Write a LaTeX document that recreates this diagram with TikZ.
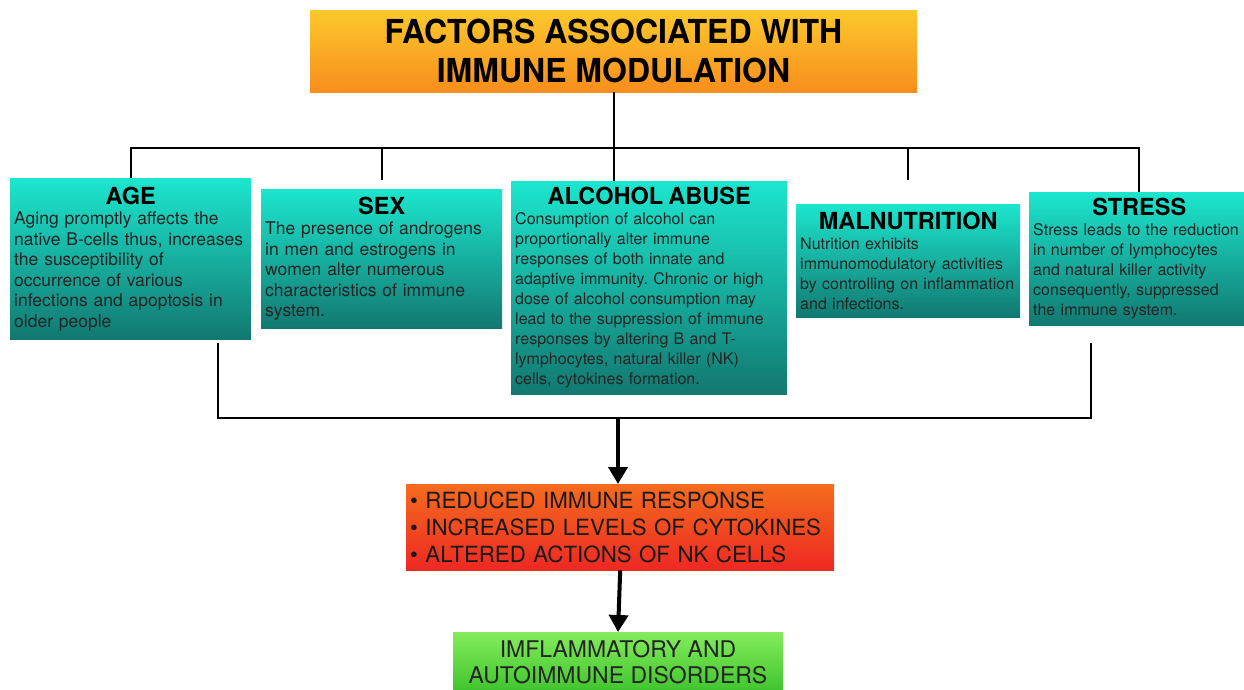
\documentclass[tikz,border=0pt]{standalone}
\usepackage{fontspec}
\setmainfont{TeX Gyre Heros}
\newfontfamily\titlefont[FakeStretch=0.97]{TeX Gyre Heros}
\usetikzlibrary{arrows.meta, positioning}
\definecolor{titletop}{RGB}{252,200,44}
\definecolor{titlebot}{RGB}{248,142,28}
\definecolor{tealtop}{RGB}{28,230,206}
\definecolor{tealbot}{RGB}{18,120,112}
\definecolor{redtop}{RGB}{244,108,30}
\definecolor{redbot}{RGB}{238,40,34}
\definecolor{greentop}{RGB}{132,236,92}
\definecolor{greenbot}{RGB}{62,196,44}
\definecolor{bodygray}{RGB}{36,36,36}
\frenchspacing
\hyphenpenalty=10000

\newcommand{\factorhead}[1]{{\centering\color{black}\bfseries\fontsize{23.5}{25}\selectfont #1\par}}

\begin{document}
\begin{tikzpicture}[
    x=1pt, y=-1pt,
    title/.style={top color=titletop, bottom color=titlebot, minimum width=607pt,
        minimum height=82pt, inner sep=0pt, align=center,
        font=\titlefont\bfseries\fontsize{33}{39}\selectfont},
    factor/.style={anchor=north west, top color=tealtop, bottom color=tealbot,
        text=bodygray, align=left, inner xsep=4pt, inner ysep=6pt,
        font=\fontsize{16}{20}\selectfont},
    bigger/.style={font=\fontsize{17.5}{20.5}\selectfont},
    result/.style={anchor=north west, top color=redtop, bottom color=redbot,
        text=black!90, align=left, text width=420pt, minimum height=86pt,
        inner xsep=4pt, font=\fontsize{22.3}{27}\selectfont},
    outcome/.style={anchor=north, top color=greentop, bottom color=greenbot,
        text=bodygray, align=center, minimum width=330pt, minimum height=60pt,
        font=\fontsize{23}{26}\selectfont},
    link/.style={line width=2pt, black},
    flow/.style={line width=4pt, black, -{Triangle[width=19pt,length=17pt]}}
]
    \useasboundingbox (0,0) rectangle (1244,689);

    % heading
    \node[title] (title) at (613.5,51) {FACTORS ASSOCIATED WITH\\IMMUNE MODULATION};

    % the five factors
    \node[factor, bigger, text width=233pt, minimum height=161pt] (age) at (10,178)
        {\factorhead{AGE}Aging promptly affects the\\native B-cells thus, increases\\the susceptibility of\\occurrence of various\\infections and apoptosis in\\older people};
    \node[factor, bigger, text width=233pt, minimum height=139pt] (sex) at (261,189)
        {\factorhead{SEX}The presence of androgens\\in men and estrogens in\\women alter numerous\\characteristics of immune\\system.};
    \node[factor, text width=268pt, minimum height=213pt] (alcohol) at (511,181)
        {\factorhead{ALCOHOL ABUSE}Consumption of alcohol can\\proportionally alter immune\\responses of both innate and\\adaptive immunity. Chronic or high\\dose of alcohol consumption may\\lead to the suppression of immune\\responses by altering B and T-\\lymphocytes, natural killer (NK)\\cells, cytokines formation.};
    \node[factor, text width=216pt, minimum height=113pt] (malnutrition) at (796,204)
        {\factorhead{MALNUTRITION}Nutrition exhibits\\immunomodulatory activities\\by controlling on inflammation\\and infections.};
    \node[factor, text width=212pt, minimum height=133pt] (stress) at (1029,192)
        {\factorhead{STRESS}Stress leads to the reduction\\in number of lymphocytes\\and natural killer activity\\consequently, suppressed\\the immune system.};

    % effects and outcome
    \node[result] (effects) at (406,484)
        {• REDUCED IMMUNE RESPONSE\\• INCREASED LEVELS OF CYTOKINES\\• ALTERED ACTIONS OF NK CELLS};
    \node[outcome] (disorders) at (618,632) {IMFLAMMATORY AND\\AUTOIMMUNE DISORDERS};

    % branching from the heading
    \coordinate (hub) at (613,148);
    \coordinate (droplevel) at (0,180);
    \draw[link] (title.south) -- (title.south |- alcohol.north);
    \draw[link] (age.north) -- (age.north |- hub) -- (stress.north |- hub) -- (stress.north);
    \foreach \n in {sex, malnutrition}
        \draw[link] (\n.north |- hub) -- (\n.north |- droplevel);

    % gathering into the effects
    \coordinate (agefoot) at (218,343);
    \coordinate (stressfoot) at (1091,343);
    \coordinate (gather) at (618,418);
    \draw[link] (agefoot) -- (agefoot |- gather) -- (stressfoot |- gather) -- (stressfoot);
    \draw[flow] (gather) -- (effects.north -| gather);
    \draw[flow] (effects.south) -- (disorders.north);
\end{tikzpicture}
\end{document}
